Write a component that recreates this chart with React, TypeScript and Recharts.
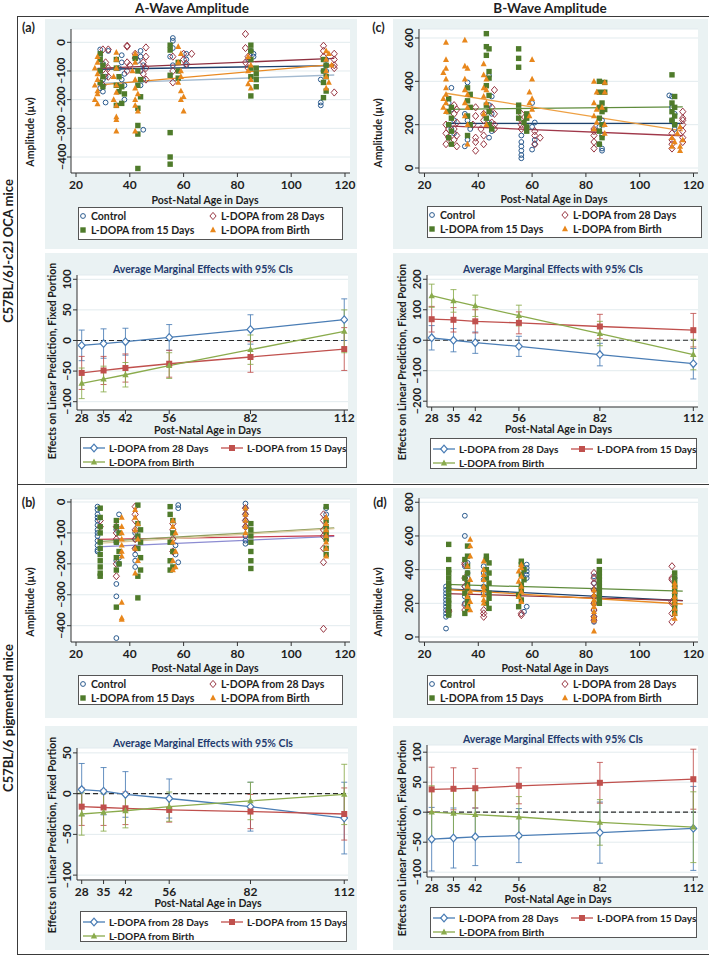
import React from "react";
import {
  ComposedChart,
  Scatter,
  Line,
  XAxis,
  YAxis,
  CartesianGrid,
  ReferenceLine,
  ErrorBar,
  Legend,
} from "recharts";

type Pt = [number, number];

const FONT = "Lato, 'Noto Sans', sans-serif";
const BG = "#eaf2f3";
const INK = "#1e1e1e";
const AXIS = "#333";
const GRID = "#e2ebee";

// scatter groups, in drawing order
const GROUPS = ["Control", "L-DOPA from 28 Days", "L-DOPA from 15 Days", "L-DOPA from Birth"];
const MARKER_COLORS = ["#2b5b8e", "#983642", "#4f7b2b", "#e8871c"];
const SCATTER_X_TICKS = [20, 40, 60, 80, 100, 120];
const FIT_DAYS = [28, 116];

// (a) OCA, A-wave
const aControl: Pt[] = [
  [29, -25], [29, -45], [30, -75], [29, -100], [30, -130], [29, -160], [30, -172], [31, -210], [32, -30], [31, -120],
  [36, -90], [37, -45], [37, -70], [38, -110], [37, -130], [38, -150], [38, -200],
  [43, -65], [44, -30], [44, -50], [45, -80], [44, -100], [45, -130], [44, -150], [45, -305],
  [56, 15], [56, 5], [56, -20], [55, -50], [56, -80],
  [61, -40], [61, -60], [61, -80],
  [85, -30], [86, -40], [86, -50], [84, -60],
  [111, -210], [111, -220], [111, -130], [112, -100], [113, -60], [113, -80], [113, -100],
];
const a28: Pt[] = [
  [30, -25], [31, -70], [32, -90], [31, -110], [32, -120], [30, -150], [32, -25],
  [39, -12], [39, -15], [39, -70], [40, -80], [39, -100],
  [42, -40], [42, -55], [46, -18], [46, -50], [45, -70], [46, -90], [45, -110], [46, -130],
  [56, -50], [56, -100], [56, -140], [60, -40], [60, -60], [61, -75], [63, -40],
  [83, 29], [83, -20], [84, -50], [83, -70], [84, -90],
  [112, -12], [112, -30], [112, -50], [116, -40], [116, -60], [116, -80], [116, -90], [116, -175],
];
const a15: Pt[] = [
  [29, -40], [29, -60], [30, -80], [29, -100], [30, -120], [29, -140], [30, -155],
  [35, -60], [35, -90], [36, -120], [35, -150], [36, -172], [35, -220],
  [37, -155], [38, -180], [37, -213],
  [42, -56], [43, -100], [44, -130], [43, -150], [44, -190], [43, -230], [43, -290], [43, -320], [43, -440],
  [55, -10], [55, -27], [55, -115], [55, -315], [55, -400], [55, -425],
  [58, -70], [58, -100], [58, -125],
  [85, -10], [85, -30], [85, -60], [85, -90], [85, -120], [85, -187],
  [87, -90], [87, -110], [87, -130], [87, -155],
  [112, -60], [113, -80], [112, -100], [113, -120], [112, -140], [113, -170], [112, -193],
];
const aBirth: Pt[] = [
  [28, -50], [28, -70], [27, -90], [28, -110], [28, -130], [27, -150], [28, -170], [28, -180], [27, -200], [28, -215],
  [35, -35], [35, -60], [35, -90], [34, -120], [35, -150], [35, -175], [34, -200], [35, -220], [35, -260], [35, -270], [35, -310],
  [42, -40], [42, -70], [41, -100], [42, -130], [42, -160], [43, -180], [42, -200], [42, -220], [43, -240], [42, -310],
  [58, -15], [59, -40], [58, -70], [59, -100], [59, -120], [58, -140], [59, -170], [60, -190], [59, -200], [60, -240],
  [84, -50], [85, -80], [84, -100], [85, -130], [84, -145], [85, -160],
  [113, -30], [114, -40], [113, -60], [115, -80], [113, -100], [113, -120], [114, -140], [113, -160],
];
const aFitStart = [-94, -91, -143, -149];
const aFitEnd = [-81, -56, -114, -77];
const aFitColors = ["#1d416c", "#8e3040", "#a3bad0", "#e98a22"];

// (c) OCA, B-wave
const cControl: Pt[] = [
  [30, 370], [29, 300], [30, 270], [31, 220], [29, 200], [30, 180], [31, 160],
  [36, 395], [35, 250], [36, 220], [37, 180], [36, 130], [35, 100],
  [44, 426], [45, 330], [44, 290], [45, 250], [44, 210], [45, 170], [44, 140],
  [56, 150], [56, 120], [56, 100], [56, 80], [56, 60], [56, 45],
  [60, 300], [61, 210], [60, 190], [61, 130], [61, 110], [60, 85],
  [86, 220], [85, 190], [86, 150], [85, 110], [86, 90], [86, 80],
  [111, 335], [112, 330], [112, 280], [113, 250], [112, 220], [113, 200], [113, 180],
];
const c28: Pt[] = [
  [28, 200], [29, 180], [28, 160], [29, 140], [28, 110],
  [31, 290], [32, 270], [31, 250], [32, 210], [31, 180], [32, 150], [31, 130], [32, 100],
  [39, 280], [39, 240], [38, 200], [39, 140], [39, 120], [39, 80],
  [42, 250], [42, 220], [41, 180], [42, 150], [42, 110],
  [46, 360], [45, 280], [46, 250], [45, 210], [46, 200], [46, 180],
  [56, 250], [56, 220], [56, 200], [56, 180],
  [61, 170], [61, 150], [63, 140], [61, 110],
  [83, 180], [83, 170], [83, 150], [83, 120], [83, 90],
  [112, 160], [112, 130], [112, 110], [112, 90],
  [116, 260], [116, 230], [116, 220], [116, 200], [116, 170], [116, 140], [116, 120],
];
const c15: Pt[] = [
  [29, 320], [30, 280], [29, 260], [30, 230], [29, 200], [30, 170], [29, 140], [30, 110],
  [36, 370], [37, 340], [36, 310], [37, 280], [36, 240], [37, 200], [36, 150],
  [43, 620], [43, 560], [44, 550], [43, 520], [44, 445], [44, 415], [43, 380], [44, 335], [43, 290], [44, 260], [43, 230], [44, 200], [45, 180],
  [55, 550], [55, 506], [55, 465], [55, 290], [55, 260], [55, 230],
  [58, 250], [58, 230], [57, 210], [58, 190], [58, 170],
  [85, 400], [85, 350], [86, 300], [85, 280], [86, 260], [85, 230], [86, 200], [85, 170], [86, 140], [85, 110],
  [87, 395], [87, 350], [87, 270],
  [112, 430], [113, 330], [112, 300], [113, 280], [112, 260], [113, 240], [112, 220], [113, 200],
];
const cBirth: Pt[] = [
  [28, 580], [28, 500], [28, 460], [27, 440], [28, 410], [28, 370], [28, 340], [27, 320], [28, 300], [27, 280], [28, 260],
  [35, 590], [35, 470], [36, 460], [35, 410], [35, 360], [36, 340], [35, 300], [36, 280], [35, 240], [36, 200], [36, 110],
  [42, 480], [42, 430], [43, 410], [42, 370], [43, 360], [42, 330], [43, 300], [42, 250], [43, 200],
  [60, 500], [60, 410], [59, 350], [60, 320], [59, 300], [60, 270], [59, 240],
  [83, 400], [84, 350], [83, 300], [84, 270], [83, 240], [84, 210], [83, 180],
  [87, 395], [87, 350], [86, 280], [87, 200], [87, 160],
  [112, 140], [113, 120], [112, 100], [115, 80], [115, 190], [114, 160], [116, 130], [115, 100],
];
const cFitStart = [206, 194, 271, 345];
const cFitEnd = [206, 149, 282, 171];
const cFitColors = ["#1d416c", "#a0384a", "#5f8c3c", "#eea043"];

// (b) pigmented, A-wave
const bControl: Pt[] = [
  [28, -15], [28, -25], [28, -40], [28, -50], [28, -60], [28, -75], [28, -90], [28, -100], [28, -110], [28, -125], [28, -140], [28, -155], [28, -160],
  [36, -40], [35, -90], [35, -130], [36, -180], [35, -190], [36, -200], [35, -265], [35, -305], [35, -440],
  [42, -100], [42, -120], [42, -150], [42, -170], [42, -190], [42, -210],
  [58, -10], [58, -20], [57, -140], [57, -170], [58, -195],
  [83, -5], [83, -20], [83, -40], [83, -60], [83, -80], [83, -110], [83, -125], [83, -135],
  [113, -20], [113, -40], [113, -80],
];
const b28: Pt[] = [
  [29, -60], [29, -80],
  [35, -80], [35, -100], [35, -120], [35, -200], [35, -240],
  [42, -15], [42, -40], [42, -60], [42, -90], [42, -120], [42, -150],
  [56, -70], [56, -90], [56, -120], [56, -160],
  [83, -20], [83, -40], [83, -60], [83, -80],
  [112, -40], [112, -60], [112, -90], [112, -110], [112, -150], [112, -195], [112, -410],
];
const b15: Pt[] = [
  [29, -20], [29, -50], [29, -80], [29, -100], [29, -130], [29, -150], [29, -170], [29, -190], [29, -210], [29, -230], [29, -240],
  [35, -60], [35, -80], [36, -100], [35, -130], [36, -160], [35, -180], [36, -200], [35, -220], [35, -340],
  [43, -10], [43, -70], [44, -90], [43, -110], [44, -130], [43, -150], [44, -180], [44, -220], [43, -240], [43, -310],
  [55, -15], [55, -40], [56, -60], [56, -100], [55, -130], [56, -160], [55, -190], [56, -210], [55, -220],
  [85, -70], [85, -90], [85, -110], [85, -130], [85, -160], [85, -190], [85, -215],
  [113, -15], [113, -60], [113, -80], [113, -100], [113, -120], [113, -150], [113, -170],
];
const bBirth: Pt[] = [
  [37, -50], [37, -80], [37, -100], [37, -120], [37, -140], [37, -160], [37, -175], [37, -325], [37, -375], [37, -380],
  [42, -25], [42, -50], [43, -70], [42, -90], [43, -120], [42, -150], [43, -190], [42, -230],
  [56, -60], [56, -80], [57, -100], [56, -130], [57, -160], [56, -190], [57, -210], [56, -220],
  [83, -20], [83, -40], [83, -60], [83, -80], [83, -100],
  [113, -50], [113, -70], [113, -90], [113, -110], [113, -130], [113, -150], [113, -175],
];
const bFitStart = [-145, -121, -128, -134];
const bFitEnd = [-111, -109, -84, -86];
const bFitColors = ["#8c8cd2", "#c63d50", "#8f9e5e", "#dccb9f"];

// (d) pigmented, B-wave
const dControl: Pt[] = [
  [28, 300], [28, 280], [28, 260], [28, 240], [28, 220], [28, 200], [28, 180], [28, 160], [28, 140], [28, 120], [28, 50],
  [35, 720], [35, 600], [36, 440], [35, 420], [36, 380], [36, 350], [35, 300], [36, 270], [35, 240], [35, 200],
  [42, 420], [42, 380], [42, 340], [42, 300], [42, 260],
  [58, 430], [58, 410], [58, 390], [58, 370], [58, 350], [58, 180], [57, 150],
  [83, 360], [83, 320], [83, 280], [83, 240], [83, 200], [83, 160], [83, 120], [83, 90],
  [113, 350], [113, 300], [113, 260],
];
const d28: Pt[] = [
  [29, 160], [29, 150],
  [35, 440], [35, 430], [35, 350], [35, 300], [35, 190], [35, 160],
  [42, 160], [42, 140], [42, 120],
  [56, 140], [56, 130],
  [83, 380], [83, 350], [83, 320], [83, 280], [83, 240], [83, 200], [83, 160], [83, 120], [83, 100],
  [112, 420], [112, 350], [112, 340], [112, 210], [112, 200], [112, 140], [112, 90],
];
const d15: Pt[] = [
  [29, 550], [29, 460], [29, 400], [29, 380], [29, 350], [29, 320], [29, 300], [29, 280], [29, 250], [29, 220], [29, 200], [29, 170], [29, 140], [29, 130],
  [36, 540], [36, 480], [35, 460], [36, 420], [36, 380], [35, 350], [36, 320], [36, 290], [35, 260], [36, 230], [36, 200], [36, 170], [35, 140],
  [43, 480], [43, 460], [44, 440], [43, 400], [44, 380], [43, 350], [44, 320], [43, 290], [44, 260], [44, 230], [43, 200], [44, 170],
  [56, 450], [56, 430], [57, 400], [56, 370], [57, 340], [56, 310], [56, 280], [55, 250], [56, 220], [55, 180],
  [85, 450], [85, 400], [85, 380], [85, 360], [85, 340], [85, 320], [85, 300], [85, 280], [85, 260], [85, 240], [85, 220], [85, 200],
  [113, 380], [113, 350], [113, 320], [113, 290], [113, 260], [113, 230], [113, 200], [113, 170], [113, 140],
];
const dBirth: Pt[] = [
  [37, 580], [37, 540], [37, 480], [36, 420], [37, 340], [36, 300], [37, 270], [36, 240], [37, 210], [36, 180], [37, 160],
  [42, 450], [42, 400], [42, 370], [42, 340], [42, 300], [42, 280], [42, 250], [42, 220], [42, 200],
  [56, 430], [56, 410], [55, 390], [56, 360], [55, 330], [56, 300], [56, 270], [55, 240], [56, 210],
  [83, 280], [83, 250], [83, 220], [83, 200], [83, 180], [83, 150], [83, 120], [83, 100], [83, 35],
  [113, 320], [113, 300], [113, 270], [113, 240], [113, 220], [113, 200], [113, 170], [113, 140], [113, 110],
];
const dFitStart = [286, 258, 312, 282];
const dFitEnd = [216, 216, 272, 196];
const dFitColors = ["#1d416c", "#93343f", "#5f8c3c", "#e98a22"];

// marginal effects, order: 28 days, 15 days, birth
const AGES = [28, 35, 42, 56, 82, 112];
const ME_NAMES = ["L-DOPA from 28 Days", "L-DOPA from 15 Days", "L-DOPA from Birth"];
const ME_COLORS = ["#4a7db5", "#c0504d", "#8aab4c"];

const amMean = [[-8, -5, -2, 5, 18, 34], [-53, -49, -45, -38, -27, -14], [-70, -63, -56, -41, -15, 15]];
const amErr = [[25, 24, 22, 21, 24, 34], [27, 23, 23, 22, 25, 35], [25, 21, 20, 21, 24, 35]];
const cmMean = [[8, 0, -8, -20, -47, -77], [69, 67, 62, 57, 45, 33], [146, 129, 113, 81, 22, -47]];
const cmErr = [[40, 38, 35, 33, 37, 50], [42, 40, 38, 36, 40, 55], [38, 37, 35, 34, 40, 50]];
const bmMean = [[5, 3, -1, -6, -16, -30], [-16, -17, -18, -20, -22, -25], [-25, -23, -21, -16, -9, -1]];
const bmErr = [[32, 29, 28, 24, 30, 44], [23, 22, 20, 15, 21, 32], [26, 23, 21, 18, 23, 37]];
const dmMean = [[-45, -43, -41, -39, -34, -27], [38, 39, 40, 44, 49, 55], [0, -2, -4, -8, -17, -25]];
const dmErr = [[53, 50, 48, 45, 51, 70], [37, 35, 33, 30, 34, 50], [44, 42, 40, 34, 38, 59]];

const fmt = (v: number) => (v < 0 ? `\u2013${Math.abs(v)}` : `${v}`);

function YTick(props: any) {
  const { x, y, payload } = props;
  return (
    <text x={x} y={y} transform={`rotate(-90 ${x} ${y})`} textAnchor="middle"
      fontSize={11.5} fontWeight={700} fill={INK} fontFamily={FONT}>
      {fmt(payload.value)}
    </text>
  );
}

function XTick(props: any) {
  const { x, y, payload } = props;
  return (
    <text x={x} y={y} dy="0.71em" textAnchor="middle" fontSize={12} fontWeight={700} fill={INK} fontFamily={FONT}>
      {payload.value}
    </text>
  );
}

function marker(kind: number, cx: number, cy: number, c: string) {
  if (kind === 0) return <circle cx={cx} cy={cy} r={2.4} fill="none" stroke={c} strokeWidth={1} />;
  if (kind === 1)
    return <path d={`M${cx},${cy - 3.6}L${cx + 3.1},${cy}L${cx},${cy + 3.6}L${cx - 3.1},${cy}Z`} fill="none" stroke={c} strokeWidth={1} />;
  if (kind === 2) return <rect x={cx - 2.7} y={cy - 2.7} width={5.4} height={5.4} fill={c} />;
  return <path d={`M${cx},${cy - 3.4}L${cx + 3},${cy + 2.3}L${cx - 3},${cy + 2.3}Z`} fill={c} />;
}

function meMarker(i: number, cx: number, cy: number) {
  const c = ME_COLORS[i];
  if (i === 0)
    return <path d={`M${cx},${cy - 3.8}L${cx + 3.4},${cy}L${cx},${cy + 3.8}L${cx - 3.4},${cy}Z`} fill="#fff" stroke={c} strokeWidth={1.2} />;
  if (i === 1) return <rect x={cx - 3} y={cy - 3} width={6} height={6} fill={c} />;
  return <path d={`M${cx},${cy - 3.6}L${cx + 3.2},${cy + 2.4}L${cx - 3.2},${cy + 2.4}Z`} fill={c} />;
}

function Txt({ x, y, text, rotate = false, size = 10.5, color = INK }: any) {
  return (
    <div
      style={{
        position: "absolute", left: x, top: y, whiteSpace: "nowrap", fontSize: size, fontWeight: 700,
        color, lineHeight: 1, fontFamily: FONT,
        transform: `translate(-50%, -50%)${rotate ? " rotate(-90deg)" : ""}`,
      }}
    >
      {text}
    </div>
  );
}

type Box = { x: number; y: number; w: number; h: number };
type Plot = { x0: number; x1: number; y0: number; y1: number };

function ScatterLegend({ w, h, col2 }: { w: number; h: number; col2: number }) {
  const cells = [
    { g: 0, x: 5, y: 9 },
    { g: 1, x: col2, y: 9 },
    { g: 2, x: 5, y: 23 },
    { g: 3, x: col2, y: 23 },
  ];
  return (
    <svg width={w} height={h} style={{ display: "block" }}>
      <rect x={0.5} y={0.5} width={w - 1} height={h - 1} fill="#fff" stroke="#555" />
      {cells.map((c) => (
        <g key={c.g}>
          {marker(c.g, c.x, c.y, MARKER_COLORS[c.g])}
          <text x={c.x + 8} y={c.y} dy="0.36em" fontSize={10.5} fontWeight={700} fill={INK} fontFamily={FONT}>
            {GROUPS[c.g]}
          </text>
        </g>
      ))}
    </svg>
  );
}

function MeLegend({ w, h }: { w: number; h: number }) {
  const cells = [
    { i: 0, x: 3, y: 11 },
    { i: 1, x: 141, y: 11 },
    { i: 2, x: 3, y: 25 },
  ];
  return (
    <svg width={w} height={h} style={{ display: "block" }}>
      <rect x={0.5} y={0.5} width={w - 1} height={h - 1} fill="#fff" stroke="#555" />
      {cells.map((c) => (
        <g key={c.i}>
          <line x1={c.x} x2={c.x + 22} y1={c.y} y2={c.y} stroke={ME_COLORS[c.i]} strokeWidth={1.3} />
          {meMarker(c.i, c.x + 11, c.y)}
          <text x={c.x + 26} y={c.y} dy="0.36em" fontSize={10.1} fontWeight={700} fill={INK} fontFamily={FONT}>
            {ME_NAMES[c.i]}
          </text>
        </g>
      ))}
    </svg>
  );
}

const toXY = (a: Pt[]) => a.map(([x, y]) => ({ x, y }));

function ScatterPanel(p: {
  svg: Box; plot: Plot; xDomain: [number, number]; yDomain: [number, number]; yTicks: number[];
  legend: Box; col2: number; groups: Pt[][]; fitStart: number[]; fitEnd: number[]; fitColors: string[];
}) {
  const { svg, plot } = p;
  const xAxisH = 20;
  const margin = {
    top: plot.y0 - svg.y,
    right: svg.x + svg.w - plot.x1,
    left: 0,
    bottom: svg.y + svg.h - plot.y1 - xAxisH,
  };
  return (
    <div style={{ position: "absolute", left: svg.x, top: svg.y }}>
      <ComposedChart width={svg.w} height={svg.h} margin={margin}>
        <CartesianGrid vertical={false} fill="#fff" stroke={GRID} />
        <XAxis type="number" dataKey="x" domain={p.xDomain} ticks={SCATTER_X_TICKS} allowDataOverflow interval={0}
          height={xAxisH} tick={XTick} tickSize={4} tickMargin={3.5} axisLine={{ stroke: AXIS }} tickLine={{ stroke: AXIS }} />
        <YAxis type="number" dataKey="y" domain={p.yDomain} ticks={p.yTicks} allowDataOverflow interval={0}
          width={plot.x0 - svg.x} tick={YTick} tickSize={4} tickMargin={1.5} axisLine={{ stroke: AXIS }} tickLine={{ stroke: AXIS }} />
        {p.groups.map((g, i) => (
          <Scatter key={`s${i}`} name={GROUPS[i]} data={toXY(g)} isAnimationActive={false}
            shape={(s: any) => marker(i, s.cx, s.cy, MARKER_COLORS[i])} />
        ))}
        {p.fitStart.map((v, i) => (
          <Line key={`f${i}`} type="linear" dataKey="y" isAnimationActive={false} dot={false} activeDot={false}
            stroke={p.fitColors[i]} strokeWidth={1.3}
            data={[{ x: FIT_DAYS[0], y: v }, { x: FIT_DAYS[1], y: p.fitEnd[i] }]} />
        ))}
        <Legend verticalAlign="middle" align="center" layout="horizontal"
          wrapperStyle={{ left: p.legend.x - svg.x, top: p.legend.y - svg.y, width: p.legend.w, height: p.legend.h }}
          content={() => <ScatterLegend w={p.legend.w} h={p.legend.h} col2={p.col2} />} />
      </ComposedChart>
    </div>
  );
}

function MarginalPanel(p: {
  svg: Box; plot: Plot; xDomain: [number, number]; yDomain: [number, number]; yTicks: number[];
  legend: Box; mean: number[][]; err: number[][]; xTickMargin: number;
}) {
  const { svg, plot } = p;
  const xAxisH = 20;
  const margin = {
    top: plot.y0 - svg.y,
    right: svg.x + svg.w - plot.x1,
    left: 0,
    bottom: svg.y + svg.h - plot.y1 - xAxisH,
  };
  const rows = AGES.map((x, k) => ({
    x,
    m0: p.mean[0][k], e0: p.err[0][k],
    m1: p.mean[1][k], e1: p.err[1][k],
    m2: p.mean[2][k], e2: p.err[2][k],
  }));
  return (
    <div style={{ position: "absolute", left: svg.x, top: svg.y }}>
      <ComposedChart width={svg.w} height={svg.h} margin={margin} data={rows}>
        <CartesianGrid vertical={false} fill="#fff" stroke={GRID} />
        <XAxis type="number" dataKey="x" domain={p.xDomain} ticks={AGES} allowDataOverflow interval={0}
          height={xAxisH} tick={XTick} tickSize={4} tickMargin={p.xTickMargin} axisLine={{ stroke: AXIS }} tickLine={{ stroke: AXIS }} />
        <YAxis type="number" domain={p.yDomain} ticks={p.yTicks} allowDataOverflow interval={0}
          width={plot.x0 - svg.x} tick={YTick} tickSize={4} tickMargin={1.5} axisLine={{ stroke: AXIS }} tickLine={{ stroke: AXIS }} />
        <ReferenceLine y={0} stroke="#2a2a2a" strokeDasharray="5 3" strokeWidth={1.2} />
        {[0, 1, 2].map((i) => (
          <Line key={`m${i}`} type="linear" dataKey={`m${i}`} isAnimationActive={false} activeDot={false}
            stroke={ME_COLORS[i]} strokeWidth={1.3}
            dot={(d: any) => <g key={`d${i}-${d.index}`}>{meMarker(i, d.cx, d.cy)}</g>}>
            <ErrorBar dataKey={`e${i}`} width={3} stroke={ME_COLORS[i]} strokeOpacity={0.85} strokeWidth={1} direction="y" />
          </Line>
        ))}
        <Legend verticalAlign="middle" align="center" layout="horizontal"
          wrapperStyle={{ left: p.legend.x - svg.x, top: p.legend.y - svg.y, width: p.legend.w, height: p.legend.h }}
          content={() => <MeLegend w={p.legend.w} h={p.legend.h} />} />
      </ComposedChart>
    </div>
  );
}

const SCATTER_Y_A = [-400, -300, -200, -100, 0];
const SCATTER_Y_B = [0, 200, 400, 600];
const SCATTER_Y_D = [0, 200, 400, 600, 800];

function Bg({ x, y, w, h }: Box) {
  return <div style={{ position: "absolute", left: x, top: y, width: w, height: h, background: BG }} />;
}

export default function App() {
  const L = 45;
  const LW = 312;
  const R = 393;
  const RW = 315;
  return (
    <div style={{ position: "absolute", left: 0, top: 0, width: 709, height: 956, background: "#fff", fontFamily: FONT, overflow: "hidden" }}>
      {/* frame */}
      <div style={{ position: "absolute", left: 17, top: 16, width: 700, height: 937, borderTop: "1.5px solid #3a3a3a", borderLeft: "1.5px solid #3a3a3a", borderBottom: "1.5px solid #3a3a3a" }} />
      <div style={{ position: "absolute", left: 17, top: 484, width: 700, height: 0, borderTop: "1.5px solid #3a3a3a" }} />

      <Bg x={L} y={19} w={LW} h={230} />
      <Bg x={L} y={253} w={LW} h={230} />
      <Bg x={L} y={488} w={LW} h={230} />
      <Bg x={L} y={726} w={LW} h={224} />
      <Bg x={R} y={19} w={RW} h={230} />
      <Bg x={R} y={253} w={RW} h={230} />
      <Bg x={R} y={488} w={RW} h={230} />
      <Bg x={R} y={726} w={RW} h={224} />

      <Txt x={192} y={8.5} text="A-Wave Amplitude" size={13.5} />
      <Txt x={550} y={8.5} text="B-Wave Amplitude" size={13.5} />
      <Txt x={8} y={251} text="C57BL/6J-c2J OCA mice" rotate size={13} />
      <Txt x={8} y={718} text="C57BL/6 pigmented mice" rotate size={13} />

      {/* (a) */}
      <ScatterPanel svg={{ x: 20, y: 19, w: 340, h: 230 }} plot={{ x0: 71, x1: 350, y0: 29, y1: 173 }}
        xDomain={[18.14, 121.86]} yDomain={[-455.8, 46.4]} yTicks={SCATTER_Y_A}
        legend={{ x: 78, y: 207, w: 265, h: 33 }} col2={135}
        groups={[aControl, a28, a15, aBirth]} fitStart={aFitStart} fitEnd={aFitEnd} fitColors={aFitColors} />
      <Txt x={28.5} y={28} text="(a)" size={12.5} />
      <Txt x={30} y={132} text="Amplitude (µv)" rotate />
      <Txt x={205} y={199.5} text="Post-Natal Age in Days" />

      {/* (c) */}
      <ScatterPanel svg={{ x: 370, y: 19, w: 336, h: 230 }} plot={{ x0: 419, x1: 698, y0: 29, y1: 173 }}
        xDomain={[17.96, 121.67]} yDomain={[-23, 641.5]} yTicks={SCATTER_Y_B}
        legend={{ x: 427, y: 206, w: 275, h: 32 }} col2={138}
        groups={[cControl, c28, c15, cBirth]} fitStart={cFitStart} fitEnd={cFitEnd} fitColors={cFitColors} />
      <Txt x={378.5} y={28} text="(c)" size={12.5} />
      <Txt x={378} y={133} text="Amplitude (µv)" rotate />
      <Txt x={554} y={199} text="Post-Natal Age in Days" />

      {/* (b) */}
      <ScatterPanel svg={{ x: 20, y: 488, w: 340, h: 230 }} plot={{ x0: 71, x1: 350, y0: 499, y1: 642 }}
        xDomain={[18.14, 121.86]} yDomain={[-452.7, 9.7]} yTicks={SCATTER_Y_A}
        legend={{ x: 78, y: 675, w: 265, h: 30 }} col2={135}
        groups={[bControl, b28, b15, bBirth]} fitStart={bFitStart} fitEnd={bFitEnd} fitColors={bFitColors} />
      <Txt x={28.5} y={503} text="(b)" size={12.5} />
      <Txt x={30} y={602} text="Amplitude (µv)" rotate />
      <Txt x={205} y={668} text="Post-Natal Age in Days" />

      {/* (d) */}
      <ScatterPanel svg={{ x: 370, y: 488, w: 336, h: 230 }} plot={{ x0: 419, x1: 698, y0: 498, y1: 642 }}
        xDomain={[17.96, 121.67]} yDomain={[-29.7, 825.4]} yTicks={SCATTER_Y_D}
        legend={{ x: 427, y: 675, w: 271, h: 30 }} col2={138}
        groups={[dControl, d28, d15, dBirth]} fitStart={dFitStart} fitEnd={dFitEnd} fitColors={dFitColors} />
      <Txt x={380} y={503} text="(d)" size={12.5} />
      <Txt x={378} y={602} text="Amplitude (µv)" rotate />
      <Txt x={555} y={668} text="Post-Natal Age in Days" />

      {/* marginal (a) */}
      <MarginalPanel svg={{ x: 20, y: 253, w: 340, h: 230 }} plot={{ x0: 77, x1: 348, y0: 275, y1: 410 }}
        xDomain={[26.5, 113.2]} yDomain={[-113.6, 107]} yTicks={[-100, -50, 0, 50, 100]}
        legend={{ x: 80, y: 437, w: 267, h: 31 }} mean={amMean} err={amErr} xTickMargin={-1} />
      <Txt x={203} y={269} text="Average Marginal Effects with 95% CIs" color="#1f3a6e" />
      <Txt x={52} y={361} text="Effects on Linear Prediction, Fixed Portion" rotate />
      <Txt x={207.5} y={430} text="Post-Natal Age in Days" />

      {/* marginal (c) */}
      <MarginalPanel svg={{ x: 370, y: 253, w: 336, h: 230 }} plot={{ x0: 427, x1: 698, y0: 275, y1: 407 }}
        xDomain={[26.5, 113.5]} yDomain={[-219, 214]} yTicks={[-200, -100, 0, 100, 200]}
        legend={{ x: 430, y: 438, w: 267, h: 31 }} mean={cmMean} err={cmErr} xTickMargin={2} />
      <Txt x={553} y={269} text="Average Marginal Effects with 95% CIs" color="#1f3a6e" />
      <Txt x={402} y={362} text="Effects on Linear Prediction, Fixed Portion" rotate />
      <Txt x={558.5} y={429} text="Post-Natal Age in Days" />

      {/* marginal (b) */}
      <MarginalPanel svg={{ x: 20, y: 726, w: 340, h: 224 }} plot={{ x0: 77, x1: 348, y0: 748, y1: 880 }}
        xDomain={[26.5, 113.2]} yDomain={[-106, 56]} yTicks={[-100, -50, 0, 50]}
        legend={{ x: 80, y: 911, w: 267, h: 31 }} mean={bmMean} err={bmErr} xTickMargin={3} />
      <Txt x={203} y={743} text="Average Marginal Effects with 95% CIs" color="#1f3a6e" />
      <Txt x={52} y={835} text="Effects on Linear Prediction, Fixed Portion" rotate />
      <Txt x={208} y={903} text="Post-Natal Age in Days" />

      {/* marginal (d) */}
      <MarginalPanel svg={{ x: 370, y: 726, w: 336, h: 224 }} plot={{ x0: 427, x1: 698, y0: 745, y1: 877 }}
        xDomain={[26.5, 113.5]} yDomain={[-108, 112]} yTicks={[-100, -50, 0, 50, 100]}
        legend={{ x: 430, y: 907, w: 267, h: 31 }} mean={dmMean} err={dmErr} xTickMargin={2} />
      <Txt x={553} y={739} text="Average Marginal Effects with 95% CIs" color="#1f3a6e" />
      <Txt x={402} y={838} text="Effects on Linear Prediction, Fixed Portion" rotate />
      <Txt x={558} y={899} text="Post-Natal Age in Days" />
    </div>
  );
}
